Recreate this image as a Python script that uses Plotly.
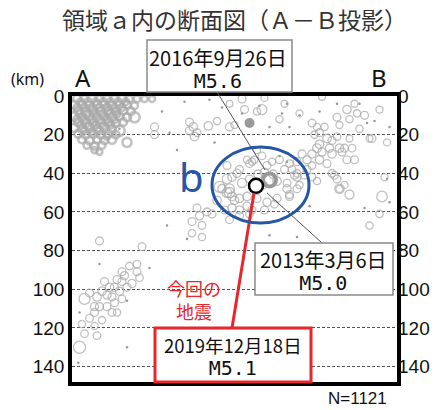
import plotly.graph_objects as go

W, H = 441, 410
L, R, T, B = 72, 44, 96, 28

# ---------------- data (distance along A-B [km], depth [km], magnitude) -------------
# dense shallow cluster near A
c1_x = [2, 5, 8, 11, 14, 17, 20, 23, 26, 29, 32,
        1, 4, 7, 10, 13, 16, 19, 22, 25,
        2.5, 5.5, 8.5, 11.5, 14.5, 17.5, 20.5, 23.5,
        1, 4, 7, 10, 13, 16, 19, 22, 25,
        2.5, 5.5, 8.5, 11.5, 14.5, 17.5, 20.5,
        1, 4, 7, 10, 13, 16, 19,
        2.5, 5.5, 8.5, 11.5, 14.5, 17.5,
        4, 7, 10, 13, 16, 22,
        6, 9, 12, 9, 11,
        3.5, 6.5, 9.5, 12.5, 15.5, 18.5, 21.5,
        2, 5, 8, 11, 14, 17, 20,
        3, 6, 9, 12, 15, 18,
        2, 5, 8, 11, 14, 17,
        3.5, 6.5, 9.5, 12.5, 15.5,
        5, 8, 11, 14]
c1_d = [1.5, 1.5, 1.5, 1.5, 1.5, 1.5, 1.5, 1.5, 1.5, 1.5, 1.5,
        4.5, 4.5, 5, 4.5, 4.5, 5, 4.5, 4.5, 5,
        7.5, 8, 7.5, 8, 7.5, 8, 7.5, 8,
        10.5, 11, 10.5, 11, 10.5, 11, 10.5, 11, 11,
        13.5, 14, 13.5, 14, 13.5, 14, 13.5,
        16.5, 17, 16.5, 17, 16.5, 17, 18,
        19.5, 20, 19.5, 20, 19.5, 20,
        22.5, 23, 22.5, 23, 22.5, 24,
        25.5, 26, 25.5, 28, 29,
        3, 3, 3, 3, 3, 3, 3,
        6, 6, 6.5, 6, 6, 6.5, 6,
        9, 9.5, 9, 9.5, 9, 9.5,
        12, 12.5, 12, 12.5, 12, 12.5,
        15, 15.5, 15, 15.5, 15,
        18, 18.5, 18, 21]
c1_m = [1.8, 1.6, 1.8, 1.5, 1.7, 1.6, 1.8, 1.5, 1.4, 1.3, 1.2,
        2.0, 1.9, 2.1, 1.8, 2.0, 1.9, 1.8, 1.7, 1.5,
        2.0, 2.2, 1.9, 2.1, 2.0, 1.8, 1.9, 1.7,
        2.1, 1.9, 2.2, 2.0, 1.9, 2.1, 1.8, 1.9, 2.6,
        2.0, 2.1, 1.9, 2.2, 2.0, 1.8, 1.7,
        1.9, 2.0, 2.1, 1.9, 2.0, 1.8, 2.6,
        1.8, 1.9, 2.0, 1.8, 1.9, 1.7,
        1.7, 1.8, 1.6, 1.7, 2.0, 2.2,
        1.5, 1.6, 1.5, 1.2, 1.0,
        1.4, 1.5, 1.3, 1.5, 1.4, 1.5, 1.3,
        1.5, 1.4, 1.6, 1.4, 1.5, 1.3, 1.4,
        1.4, 1.6, 1.5, 1.4, 1.5, 1.3,
        1.5, 1.4, 1.6, 1.5, 1.4, 1.3,
        1.4, 1.5, 1.4, 1.5, 1.3,
        1.4, 1.3, 1.5, 1.3]

# other events (shallow scatter, right cluster, region b, deeper clusters)
ev_x = [33, 33, 47, 48.5, 47, 50, 54.5, 49, 63, 58, 68,
        69, 74, 76, 77, 85, 91, 83, 65, 63, 100, 110, 111, 113, 117, 123, 96, 106, 114, 120, 126,
        99, 102, 104, 106, 99, 98, 103, 107, 100, 104, 108, 96, 110, 112, 99, 102, 96, 94, 92,
        104, 106, 107, 107, 124, 119, 96, 90, 90, 90, 86, 87, 98, 101, 107, 115, 119, 93, 98,
        105, 109, 111, 123, 91, 87, 94, 125, 113, 97, 109, 111,
        59, 63, 64, 62, 65, 68, 67, 71, 73, 74, 87, 85, 83, 89, 81, 77, 71, 67, 61, 58, 56, 63,
        62, 66, 62, 60, 63, 67, 70, 74, 78, 82, 86, 90, 88, 80, 76, 72, 78, 70, 72, 64, 67, 70, 64,
        74.4, 77, 80.4, 82, 76.4, 71,
        50, 51, 54, 48, 52, 48, 52, 11, 28,
        23, 26, 21, 18, 24, 15, 12, 19, 16, 5, 10, 11, 14, 9, 12, 17, 20, 7, 18, 20, 14, 9, 20,
        26, 27, 7, 16, 22, 13, 17,
        3, 5, 10, 4, 9]
ev_d = [16, 20, 13.5, 16, 18, 19, 15.5, 21, 16, 13, 1.5,
        7, 8, 7, 1, 4, 9, 12, 15, 4, 0.5, 7, 12, 4, 10, 7, 14, 11, 9, 22, 24,
        19, 22, 23, 21, 25, 27, 27, 27, 29, 30, 29, 30, 33, 27, 33, 35, 36, 33, 30,
        40, 43, 48, 48, 52, 67, 42, 34, 40, 48, 45, 52, 16, 16, 15, 17, 22, 41, 44,
        41, 46, 51, 61, 46, 35, 38, 42, 33, 20, 27, 22,
        47, 48, 42, 50, 54, 45, 38, 35, 33, 28, 51, 38, 33, 41, 56, 59, 61, 59, 59, 54, 61, 64,
        36, 40, 43, 48, 50, 53, 57, 53, 55, 53, 48, 42, 38, 34, 31, 34, 36, 33, 59, 58, 62, 52, 52,
        40.5, 39.5, 40.5, 44, 46, 43,
        58, 62, 60, 65, 67, 71, 73, 75, 78,
        88, 91, 93, 95, 97, 99, 101, 101, 104, 105, 104, 109, 109, 112, 116, 107, 105, 102, 112,
        96, 103, 109, 91, 87, 94, 115, 112, 99, 96, 99,
        130, 123, 124, 118, 119]
ev_m = [1.8, 1.8, 1.8, 2.0, 1.9, 1.8, 2.0, 2.0, 1.8, 1.6, 1.8,
        1.8, 1.6, 2.4, 1.5, 1.5, 1.5, 1.6, 1.5, 1.4, 1.4, 2.0, 1.6, 1.5, 1.8, 1.5, 1.7, 1.8, 1.6, 1.8, 1.5,
        1.8, 2.0, 1.8, 1.7, 2.0, 2.1, 1.9, 2.0, 1.9, 2.0, 1.8, 1.9, 1.8, 1.7, 2.0, 1.8, 1.7, 1.9, 1.8,
        1.7, 1.8, 2.3, 1.6, 2.7, 1.6, 1.7, 1.8, 1.7, 1.8, 1.7, 1.8, 1.5, 1.6, 1.5, 1.6, 1.5, 1.7, 1.6,
        1.7, 1.5, 2.2, 1.6, 1.6, 1.7, 1.8, 1.5, 1.8, 1.6, 1.8, 1.5,
        2.8, 2.4, 2.0, 2.3, 2.0, 2.2, 1.8, 1.7, 1.6, 1.5, 1.8, 1.8, 1.7, 1.8, 1.7, 1.8, 1.7, 1.9, 1.8, 2.0, 1.8, 1.7,
        1.8, 1.9, 2.3, 2.0, 2.6, 2.0, 1.9, 1.8, 1.9, 1.8, 1.9, 1.8, 1.7, 1.6, 1.7, 1.6, 1.8, 1.6, 1.8, 1.9, 1.8, 2.0, 2.1,
        2.0, 2.0, 2.0, 2.0, 2.0, 1.8,
        1.8, 1.9, 1.8, 1.8, 1.7, 1.6, 1.6, 1.8, 1.8,
        1.7, 1.8, 1.9, 1.8, 1.9, 2.0, 2.0, 1.9, 1.8, 2.8, 2.0, 1.9, 1.8, 1.8, 1.6, 1.8, 1.7, 1.8, 1.6,
        1.8, 1.9, 1.8, 1.8, 1.7, 1.7, 1.7, 1.7, 1.8, 1.8, 1.9,
        3.2, 1.7, 1.7, 1.6, 1.5]

# micro-earthquakes (tiny dots)
dot_x = [39, 19, 38, 46, 11, 31, 22, 22, 3, 2.5, 86, 99, 106, 115, 91, 84, 75, 68, 79, 87,
         118, 121, 127, 126, 127, 79, 90, 86, 83, 45, 55, 36, 60, 95, 117, 42, 57]
dot_d = [19, 17, 67, 74, 87, 89, 130, 106, 112, 138, 4, 8, 4, 4, 10, 9, 5, 9, 16, 16,
         14, 13, 16, 43, 55, 72, 73, 34, 31, 3, 2, 8, 6, 57, 58, 28, 24]

# filled gray event and the labelled events
gray_x, gray_d = [71], [14]
ev2016_x, ev2016_d = [79], [43.5]
ev2019_x, ev2019_d = [73.6], [46.5]

depth_ticks = [0, 20, 40, 60, 80, 100, 120, 140]

GRAY = "#a6a6a6"
BLUE = "#2656a6"
RED = "#e8262c"


def msize(m):
    return 3.0 * m + 2.5


fig = go.Figure()
fig.add_trace(go.Scatter(x=c1_x, y=c1_d, mode="markers", hoverinfo="skip",
                         marker=dict(symbol="circle-open", size=[msize(m) for m in c1_m],
                                     color="#a9a9a9", line=dict(width=2.6))))
fig.add_trace(go.Scatter(x=ev_x, y=ev_d, mode="markers", hoverinfo="skip",
                         marker=dict(symbol="circle-open", size=[msize(m) for m in ev_m],
                                     color=GRAY, line=dict(width=1.3))))
fig.add_trace(go.Scatter(x=dot_x, y=dot_d, mode="markers", hoverinfo="skip",
                         marker=dict(symbol="circle", size=2.5, color="#999999")))
fig.add_trace(go.Scatter(x=gray_x, y=gray_d, mode="markers", hoverinfo="skip",
                         marker=dict(symbol="circle", size=10, color="#9a9a9a")))
fig.add_trace(go.Scatter(x=ev2016_x, y=ev2016_d, mode="markers", hoverinfo="skip",
                         marker=dict(symbol="circle-open", size=13, color="#999999",
                                     line=dict(width=4))))
fig.add_trace(go.Scatter(x=ev2019_x, y=ev2019_d, mode="markers", hoverinfo="skip",
                         marker=dict(symbol="circle", size=14, color="white",
                                     line=dict(width=2.5, color="black"))))
# helper trace so the right-hand depth axis is drawn
fig.add_trace(go.Scatter(x=[None], y=[None], yaxis="y2", mode="markers",
                         hoverinfo="skip", showlegend=False))

PW = W - L - R
PH = H - T - B


def px(x):
    return (x - L) / PW


def py(y):
    return (H - B - y) / PH


def text(t, x, y, size, color="#111111", family="Noto Sans CJK JP"):
    fig.add_annotation(text=t, x=px(x), y=py(y), xref="paper", yref="paper",
                       showarrow=False, xanchor="center", yanchor="middle", borderpad=0,
                       align="center", font=dict(size=size, color=color, family=family))


def line(x0, y0, x1, y1, color, width):
    fig.add_shape(type="line", xref="paper", yref="paper", x0=px(x0), y0=py(y0),
                  x1=px(x1), y1=py(y1), line=dict(color=color, width=width), layer="above")


def box(x0, y0, x1, y1, color, width):
    fig.add_shape(type="rect", xref="paper", yref="paper", x0=px(x0), y0=py(y0),
                  x1=px(x1), y1=py(y1), line=dict(color=color, width=width),
                  fillcolor="white", layer="above")


def two_line(date, mag, date_size):
    return ("<span style='font-size:%spx'>%s</span><br>"
            "<span style='font-family:DejaVu Sans Mono;font-size:20px'>%s</span>"
            % (date_size, date, mag))


# leader lines
line(217, 92, 265, 170, "#555555", 1)
line(267, 193, 322, 243, "#555555", 1)
line(254, 193, 232, 328, RED, 3)

# region b ellipse
fig.add_shape(type="circle", xref="paper", yref="paper", x0=px(212), x1=px(309),
              y0=py(223), y1=py(147), line=dict(color=BLUE, width=3), layer="above")

# boxes
box(147, 40, 292, 92, "#8a8a8a", 1.5)
box(255, 243, 393, 295, "#8a8a8a", 1.5)
box(155, 328, 311, 382, RED, 3)

text(two_line("2016年9月26日", "M5.6", 20), 218, 68, 17)
text(two_line("2013年3月6日", "M5.0", 20), 323, 270, 17)
text(two_line("2019年12月18日", "M5.1", 18.5), 233, 356, 17)

text("今回の<br>地震", 193.5, 299, 18, RED)
text("b", 191, 176, 40, BLUE, "Noto Sans")

text("領域ａ内の断面図（Ａ－Ｂ投影）", 235, 19, 23, "#333333")
text("(km)", 27, 79, 16, "#111111", "Noto Sans")
text("A", 83, 77, 24, "#111111", "Noto Sans")
text("B", 379, 77, 24, "#111111", "Noto Sans")
text("N=1121", 357, 398, 17, "#111111", "Liberation Sans")

tickfont = dict(size=19, color="#111111", family="Liberation Sans")
fig.update_layout(
    width=W, height=H,
    margin=dict(l=L, r=R, t=T, b=B, pad=0),
    paper_bgcolor="white", plot_bgcolor="white",
    showlegend=False,
    xaxis=dict(range=[0, 130], showticklabels=False, showgrid=False, zeroline=False,
               showline=True, linecolor="black", linewidth=3.5, mirror=True, ticks=""),
    yaxis=dict(range=[148, 0], tickvals=depth_ticks, showgrid=True, gridcolor="#555555",
               griddash="3px,2px", gridwidth=1, zeroline=False, showline=True,
               linecolor="black", linewidth=3.5, mirror=True, ticks="", tickfont=tickfont),
    yaxis2=dict(range=[148, 0], tickvals=depth_ticks, overlaying="y", side="right",
                showgrid=False, zeroline=False, showline=False, ticks="",
                tickfont=tickfont),
)

fig.write_html("out.html", config={"displayModeBar": False},
               post_script="document.body.style.margin='0px';")
